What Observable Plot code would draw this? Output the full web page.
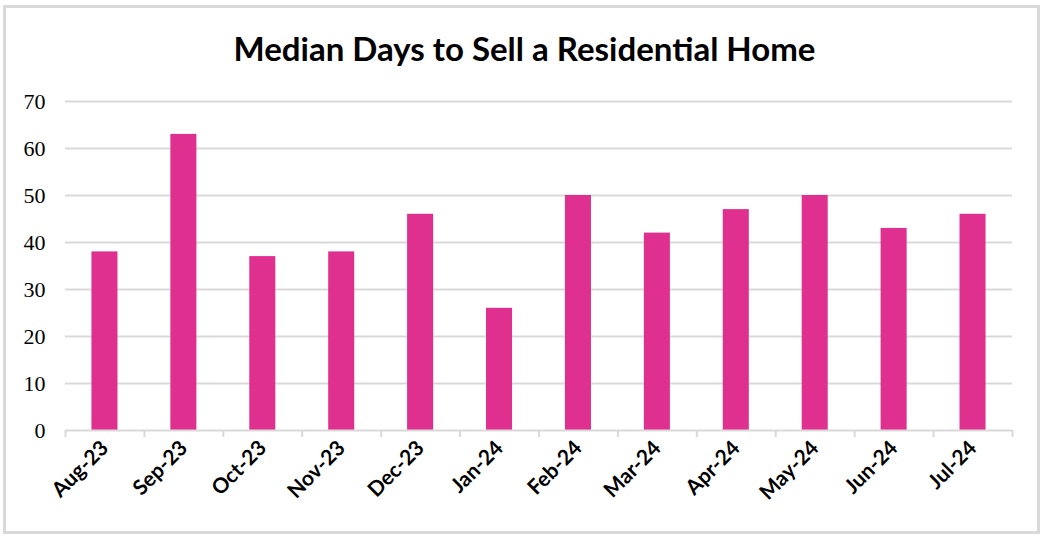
<!DOCTYPE html>
<html>
<head>
<meta charset="utf-8">
<script src="https://cdn.jsdelivr.net/npm/d3@7"></script>
<script src="https://cdn.jsdelivr.net/npm/@observablehq/plot@0.6"></script>
<style>
  html, body { margin: 0; padding: 0; background: #fff; width: 1049px; height: 540px; overflow: hidden; }
  #frame { position: absolute; left: 3px; top: 5px; width: 1037px; height: 529px; border: 3px solid #d9d9d9; box-sizing: border-box; }
  #title { position: absolute; left: 0; width: 1049px; top: 26px; text-align: center; font-family: Lato, sans-serif; font-weight: bold; font-size: 33px; line-height: 44px; color: #000; margin: 0; }
  #chart { position: absolute; left: 0; top: 80px; }
</style>
</head>
<body>
<div id="frame"></div>
<h1 id="title">Median Days to Sell a Residential Home</h1>
<div id="chart"></div>
<script>
const months = ["Aug-23","Sep-23","Oct-23","Nov-23","Dec-23","Jan-24","Feb-24","Mar-24","Apr-24","May-24","Jun-24","Jul-24"];
const days = [38, 63, 37, 38, 46, 26, 50, 42, 47, 50, 43, 46];
const yTicks = [0, 10, 20, 30, 40, 50, 60, 70];

const data = months.map((m, i) => ({month: m, days: days[i]}));
const W = 1049, mL = 65, mR = 37;
const step = (W - mL - mR) / months.length;

const chart = Plot.plot({
  width: W,
  height: 440,
  marginLeft: mL,
  marginRight: mR,
  marginTop: 21,
  marginBottom: 90,
  style: {background: "transparent", overflow: "visible"},
  x: {domain: months, paddingInner: 0.67, paddingOuter: 0.335, round: false, label: null},
  y: {domain: [0, 70], ticks: yTicks, label: null},
  marks: [
    Plot.gridY(yTicks.filter(d => d > 0), {stroke: "#d9d9d9", strokeOpacity: 1, strokeWidth: 2}),
    Plot.barY(data, {x: "month", y: "days", fill: "#E0308F"}),
    Plot.ruleY([0], {stroke: "#d9d9d9", strokeWidth: 2}),
    Plot.ruleX(months, {x: d => d, y1: 0, y2: 0, dx: -step / 2, stroke: "#d9d9d9", strokeWidth: 2, insetBottom: -7}),
    Plot.ruleX([months[months.length - 1]], {x: d => d, y1: 0, y2: 0, dx: step / 2, stroke: "#d9d9d9", strokeWidth: 2, insetBottom: -7}),
    Plot.axisY({ticks: yTicks, tickSize: 0, tickPadding: 20, fontSize: 22, fontFamily: "Liberation Serif", fill: "#000", label: null}),
    Plot.axisX({tickSize: 0, tickRotate: -45, tickPadding: 14, fontSize: 21, fontWeight: "bold", fontFamily: "Lato", fill: "#000", label: null})
  ]
});
document.getElementById("chart").appendChild(chart);
</script>
</body>
</html>
